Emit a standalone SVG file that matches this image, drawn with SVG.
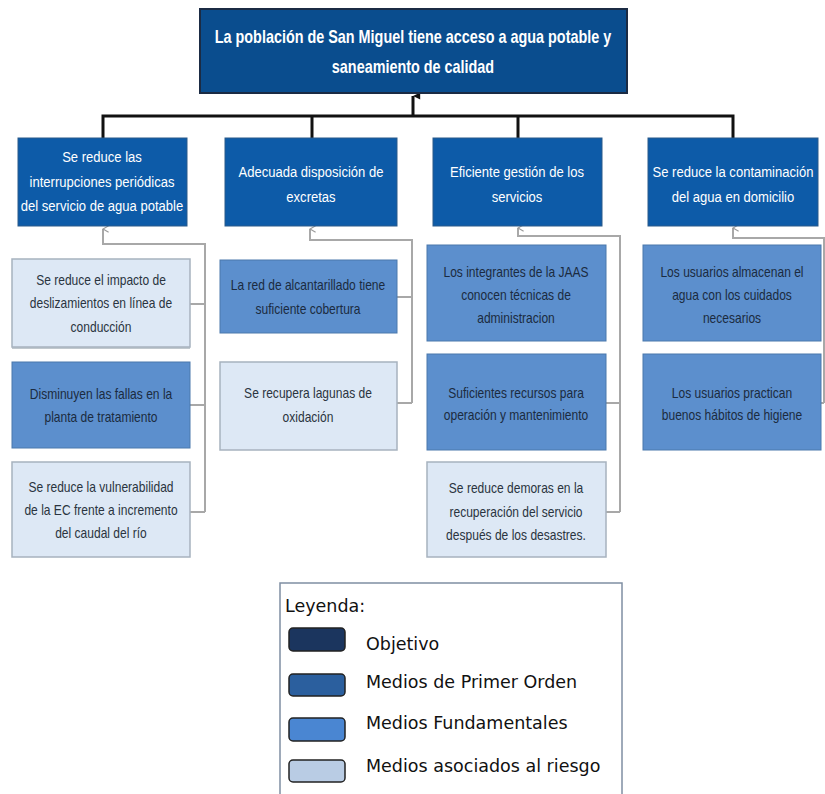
<svg xmlns="http://www.w3.org/2000/svg" width="825" height="794" viewBox="0 0 825 794">
  <defs>
    <marker id="arrowBlack" viewBox="0 0 10 10" refX="5" refY="1" markerWidth="9" markerHeight="9" orient="auto-start-reverse" markerUnits="userSpaceOnUse">
      <path d="M1,9 L5,1 L9,9 Z" fill="#111"/>
    </marker>
    <marker id="arrowGray" viewBox="0 0 10 10" refX="5" refY="1" markerWidth="8" markerHeight="8" orient="auto-start-reverse" markerUnits="userSpaceOnUse">
      <path d="M1,8 L5,1 L9,8" fill="none" stroke="#9a9a9a" stroke-width="1.5"/>
    </marker>
  </defs>
  <style>
    .goal { fill: #0a4d8e; stroke: #1b2b44; stroke-width: 2; }
    .first { fill: #0d5ba8; stroke: #2a5a8a; stroke-width: 1; }
    .fund { fill: #5c8fcd; stroke: #4a78ac; stroke-width: 1; }
    .risk { fill: #dde8f5; stroke: #a7b2be; stroke-width: 1.5; }
    .shadow { fill: #8e9aa6; opacity: 0.55; }
    /* narrow box lettering: horizontally condensed around each line's centre */
    .t { font-family: "Liberation Sans", Arial, sans-serif; text-anchor: middle;
         transform-box: fill-box; transform-origin: center; transform: scaleX(0.86); }
    .tw { fill: #ffffff; font-size: 14.5px; transform: scaleX(0.9); }
    .tg { fill: #ffffff; font-size: 18px; font-weight: bold; transform: scaleX(0.8); }
    .td { fill: #2a3440; font-size: 14px; }
    .tf { fill: #1b2b40; font-size: 14px; }
    .black { stroke: #111; stroke-width: 3; fill: none; }
    .gray { stroke: #a8a8a8; stroke-width: 2; fill: none; }
    .leg { font-family: "DejaVu Sans", Verdana, sans-serif; font-size: 17.5px; fill: #111; }
    .sw { stroke: #222; stroke-width: 1.5; }
  </style>

  <!-- connectors -->
  <g id="connectors">
    <polyline class="black" points="103,138 103,116 733,116 733,138"/>
    <line class="black" x1="312" y1="116" x2="312" y2="138"/>
    <line class="black" x1="518" y1="116" x2="518" y2="138"/>
    <line class="black" x1="413" y1="116" x2="413" y2="96" marker-end="url(#arrowBlack)"/>

    <!-- column 1 -->
    <polyline class="gray" points="103,229 103,244 205,244 205,512" marker-start="url(#arrowGray)"/>
    <line class="gray" x1="190" y1="304" x2="205" y2="304"/>
    <line class="gray" x1="190" y1="405" x2="205" y2="405"/>
    <line class="gray" x1="190" y1="512" x2="205" y2="512"/>
    <!-- column 2 -->
    <polyline class="gray" points="310,229 310,240 412,240 412,403" marker-start="url(#arrowGray)"/>
    <line class="gray" x1="397" y1="297" x2="412" y2="297"/>
    <line class="gray" x1="397" y1="403" x2="412" y2="403"/>
    <!-- column 3 -->
    <polyline class="gray" points="518,228 518,236 620,236 620,512" marker-start="url(#arrowGray)"/>
    <line class="gray" x1="606" y1="403" x2="620" y2="403"/>
    <line class="gray" x1="606" y1="512" x2="620" y2="512"/>
    <!-- column 4 -->
    <polyline class="gray" points="733,228 733,238 824,238 824,403" marker-start="url(#arrowGray)"/>
    <line class="gray" x1="821" y1="403" x2="824" y2="403"/>
  </g>

  <!-- objective -->
  <g id="objetivo">
    <rect class="goal" x="200" y="9" width="427" height="84"/>
    <text class="t tg" x="413" y="43">La población de San Miguel tiene acceso a agua potable y</text>
    <text class="t tg" x="413" y="73">saneamiento de calidad</text>
  </g>

  <!-- first-order means -->
  <g id="medio-1">
    <rect class="first" x="18" y="138" width="169" height="88"/>
    <text class="t tw" x="102" y="162">Se reduce las</text>
    <text class="t tw" x="102" y="187">interrupciones  periódicas</text>
    <text class="t tw" x="102" y="211">del servicio de agua potable</text>
  </g>
  <g id="medio-2">
    <rect class="first" x="225" y="138" width="172" height="88"/>
    <text class="t tw" x="311" y="177">Adecuada disposición de</text>
    <text class="t tw" x="311" y="202">excretas</text>
  </g>
  <g id="medio-3">
    <rect class="first" x="433" y="138" width="169" height="88"/>
    <text class="t tw" x="517" y="177">Eficiente gestión de los</text>
    <text class="t tw" x="517" y="202">servicios</text>
  </g>
  <g id="medio-4">
    <rect class="first" x="648" y="138" width="170" height="88"/>
    <text class="t tw" x="733" y="177">Se reduce la contaminación</text>
    <text class="t tw" x="733" y="202">del agua en domicilio</text>
  </g>

  <!-- column 1 children -->
  <g id="c1-a">
    <rect class="shadow" x="12" y="346" width="178" height="3"/>
    <rect class="risk" x="12" y="259" width="178" height="88"/>
    <text class="t td" x="101" y="285">Se reduce el impacto de</text>
    <text class="t td" x="101" y="308">deslizamientos en línea de</text>
    <text class="t td" x="101" y="332">conducción</text>
  </g>
  <g id="c1-b">
    <rect class="fund" x="12" y="362" width="178" height="86"/>
    <text class="t tf" x="101" y="399">Disminuyen las fallas en la</text>
    <text class="t tf" x="101" y="422">planta de tratamiento</text>
  </g>
  <g id="c1-c">
    <rect class="risk" x="12" y="462" width="178" height="95"/>
    <text class="t td" x="101" y="492">Se reduce la vulnerabilidad</text>
    <text class="t td" x="101" y="515">de la EC frente a incremento</text>
    <text class="t td" x="101" y="538">del caudal del río</text>
  </g>

  <!-- column 2 children -->
  <g id="c2-a">
    <rect class="fund" x="220" y="260" width="177" height="73"/>
    <text class="t tf" x="308" y="290">La red de alcantarillado tiene</text>
    <text class="t tf" x="308" y="314">suficiente cobertura</text>
  </g>
  <g id="c2-b">
    <rect class="risk" x="220" y="362" width="177" height="88"/>
    <text class="t td" x="308" y="398">Se recupera lagunas de</text>
    <text class="t td" x="308" y="422">oxidación</text>
  </g>

  <!-- column 3 children -->
  <g id="c3-a">
    <rect class="fund" x="427" y="245" width="179" height="96"/>
    <text class="t tf" x="516" y="277">Los integrantes de la JAAS</text>
    <text class="t tf" x="516" y="300">conocen técnicas de</text>
    <text class="t tf" x="516" y="323">administracion</text>
  </g>
  <g id="c3-b">
    <rect class="fund" x="427" y="354" width="179" height="96"/>
    <text class="t tf" x="516" y="398">Suficientes recursos para</text>
    <text class="t tf" x="516" y="420">operación y mantenimiento</text>
  </g>
  <g id="c3-c">
    <rect class="risk" x="427" y="462" width="179" height="95"/>
    <text class="t td" x="516" y="493">Se reduce demoras en la</text>
    <text class="t td" x="516" y="517">recuperación del servicio</text>
    <text class="t td" x="516" y="540">después de los desastres.</text>
  </g>

  <!-- column 4 children -->
  <g id="c4-a">
    <rect class="fund" x="643" y="245" width="178" height="96"/>
    <text class="t tf" x="732" y="277">Los usuarios almacenan el</text>
    <text class="t tf" x="732" y="300">agua con los cuidados</text>
    <text class="t tf" x="732" y="323">necesarios</text>
  </g>
  <g id="c4-b">
    <rect class="fund" x="643" y="354" width="178" height="96"/>
    <text class="t tf" x="732" y="398">Los usuarios practican</text>
    <text class="t tf" x="732" y="420">buenos hábitos de higiene</text>
  </g>

  <!-- legend -->
  <g id="leyenda">
    <rect x="280" y="583" width="342" height="230" fill="#ffffff" stroke="#7f8ea3" stroke-width="1.5"/>
    <text class="leg" x="285" y="612">Leyenda:</text>
    <rect class="sw" x="289" y="628" width="56" height="23" rx="4" fill="#1b355e"/>
    <text class="leg" x="366" y="650">Objetivo</text>
    <rect class="sw" x="289" y="674" width="56" height="22" rx="4" fill="#2b5f9e" stroke="#2b5f9e"/>
    <text class="leg" x="366" y="688">Medios de Primer Orden</text>
    <rect class="sw" x="289" y="718" width="56" height="23" rx="4" fill="#4a86d2"/>
    <text class="leg" x="366" y="729">Medios Fundamentales</text>
    <rect class="sw" x="289" y="760" width="56" height="22" rx="4" fill="#b9cce4"/>
    <text class="leg" x="366" y="772">Medios asociados al riesgo</text>
  </g>
</svg>
